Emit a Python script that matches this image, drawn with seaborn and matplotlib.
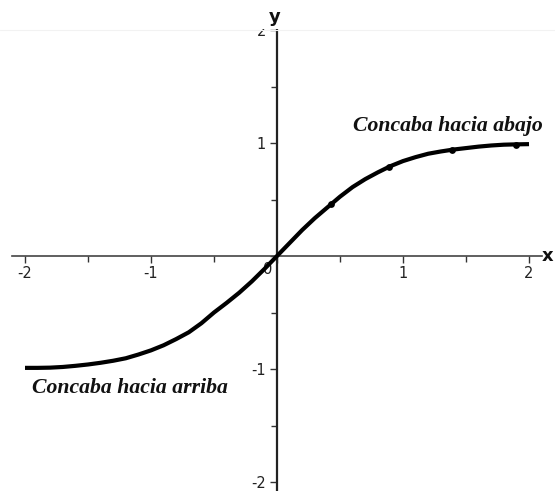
import numpy as np
import pandas as pd
import matplotlib
matplotlib.use("Agg")
import matplotlib.pyplot as plt
from matplotlib.patches import Rectangle
import seaborn as sns

# ---- data ----
curve_x = [-2.0, -1.9, -1.8, -1.7, -1.6, -1.5, -1.4, -1.3, -1.2, -1.1,
           -1.0, -0.9, -0.8, -0.7, -0.6, -0.5, -0.4, -0.3, -0.2, -0.1,
           0.0, 0.1, 0.2, 0.3, 0.4, 0.5, 0.6, 0.7, 0.8, 0.9,
           1.0, 1.1, 1.2, 1.3, 1.4, 1.5, 1.6, 1.7, 1.8, 1.9, 2.0]
curve_y = [-0.99, -0.99, -0.988, -0.982, -0.972, -0.96, -0.945, -0.927, -0.905, -0.872,
           -0.835, -0.79, -0.735, -0.675, -0.595, -0.50, -0.415, -0.325, -0.225, -0.115,
           0.0, 0.115, 0.23, 0.335, 0.43, 0.525, 0.61, 0.68, 0.74, 0.795,
           0.84, 0.875, 0.905, 0.925, 0.942, 0.955, 0.968, 0.978, 0.985, 0.988, 0.99]
dot_x = [0.43, 0.89, 1.39, 1.90]
dot_y = [0.46, 0.79, 0.94, 0.985]
major_ticks = [-2, -1, 0, 1, 2]
minor_ticks = [-1.5, -0.5, 0.5, 1.5]
x_tick_labels = ["-2", "-1", "", "1", "2"]
y_tick_labels = ["-2", "-1", "", "1", "2"]
label_up = "Concaba hacia abajo"
label_down = "Concaba hacia arriba"

sns.set_theme(style="white")
plt.rcParams['font.family'] = ['DejaVu Sans']

fig = plt.figure(figsize=(5.55, 4.91), dpi=100)
ax = fig.add_axes([0, 0, 1, 1])
ax.set_facecolor("white")

df = pd.DataFrame({"x": curve_x, "y": curve_y})
sns.lineplot(data=df, x="x", y="y", ax=ax, color="black", linewidth=3.0,
             solid_capstyle="butt", solid_joinstyle="round", zorder=4)
sns.scatterplot(x=dot_x, y=dot_y, ax=ax, color="black", s=24, linewidth=0, zorder=5)

# map data to pixel geometry of the reference
ax.set_xlim(-277 / 126, (555 - 277) / 126)
ax.set_ylim((256 - 491) / 113, 256 / 113)

for s in ["top", "right"]:
    ax.spines[s].set_visible(False)
ax.spines["left"].set_position(("data", 0))
ax.spines["bottom"].set_position(("data", 0))
ax.spines["left"].set_bounds(-2.1, 2.0)
ax.spines["bottom"].set_bounds(-2.1, 2.1)
ax.spines["left"].set_linewidth(1.6)
ax.spines["bottom"].set_linewidth(1.2)
ax.spines["left"].set_color("#222222")
ax.spines["bottom"].set_color("#444444")

ax.set_xticks(major_ticks)
ax.set_xticklabels(x_tick_labels)
ax.set_yticks(major_ticks)
ax.set_yticklabels(y_tick_labels)
ax.set_xticks(minor_ticks, minor=True)
ax.set_yticks(minor_ticks, minor=True)
ax.tick_params(axis="x", which="major", direction="out", length=5, width=1.0,
               color="#333333", labelsize=10.5, labelcolor="#222222", pad=2, bottom=True)
ax.tick_params(axis="x", which="minor", direction="out", length=4, width=1.0,
               color="#333333", bottom=True)
ax.tick_params(axis="y", which="major", direction="out", length=5, width=1.0,
               color="#333333", labelsize=10.5, labelcolor="#222222", pad=3, left=True)
ax.tick_params(axis="y", which="minor", direction="out", length=4, width=1.0,
               color="#333333", left=True)
ax.set_xlabel("")
ax.set_ylabel("")
ax.grid(False)

# origin label, slightly left of the y axis
ax.annotate("0", xy=(0, 0), xytext=(-6.5, -10), textcoords="offset points",
            ha="center", va="center", fontsize=10.5, color="#222222")

# white band at the top that hides most of the "2" label
fig.patches.append(Rectangle((0, 1 - 29 / 491), 1, 29 / 491, transform=fig.transFigure,
                             facecolor="white", edgecolor="none", zorder=10))
fig.add_artist(plt.Line2D([0, 1], [1 - 29.5 / 491] * 2, transform=fig.transFigure,
                          color="#f2f2f2", linewidth=0.8, zorder=11))

fig.text(275 / 555, 1 - 17 / 491, "y", ha="center", va="center", fontsize=13,
         fontweight="bold", color="#111111", zorder=12)
ax.annotate("x", xy=(2.1, 0), xytext=(4.5, 0), textcoords="offset points",
            ha="center", va="center", fontsize=13, fontweight="bold", color="#111111")

ax.text(1.357, 1.15, label_up, ha="center", va="center", fontsize=15.7,
        family="Liberation Serif", fontweight="bold", style="italic", color="#111111")
ax.text(-1.167, -1.17, label_down, ha="center", va="center", fontsize=15.7,
        family="Liberation Serif", fontweight="bold", style="italic", color="#111111")

fig.savefig("out.png", dpi=100, facecolor="white")
